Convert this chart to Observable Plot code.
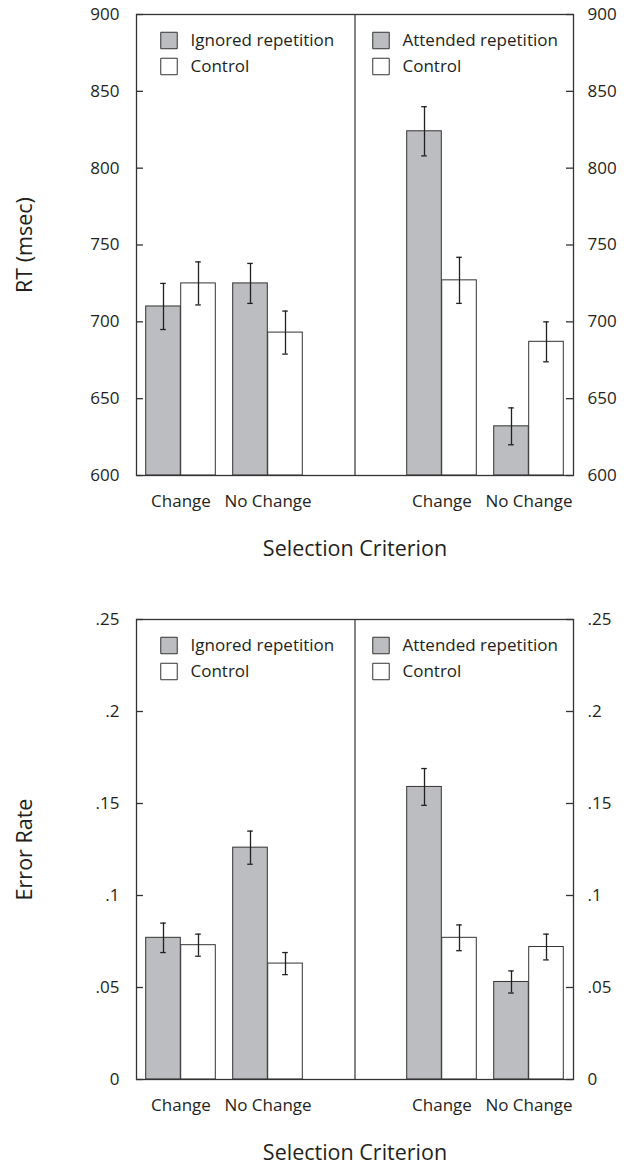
<!DOCTYPE html>
<html>
<head>
<meta charset="utf-8">
<script src="https://cdn.jsdelivr.net/npm/d3@7"></script>
<script src="https://cdn.jsdelivr.net/npm/@observablehq/plot@0.6"></script>
<style>
  html, body { margin: 0; padding: 0; background: #fff; }
  #chart svg { display: block; }
</style>
</head>
<body>
<div id="chart"></div>
<script>
// ---- Data ----
const groups = ["Ignored: Change", "Ignored: No Change", "gap", "Attended: Change", "Attended: No Change"];
const groupLabels = ["Change", "No Change", "", "Change", "No Change"];
const barGroups = ["Ignored: Change", "Ignored: No Change", "Attended: Change", "Attended: No Change"];

const legendLeft = ["Ignored repetition", "Control"];
const legendRight = ["Attended repetition", "Control"];

// RT (msec)
const rtRepetition = [710, 725, 824, 632];
const rtRepetitionErr = [15, 13, 16, 12];
const rtControl = [725, 693, 727, 687];
const rtControlErr = [14, 14, 15, 13];
const rtDomain = [600, 900];
const rtTicks = [600, 650, 700, 750, 800, 850, 900];

// Error rate
const erRepetition = [0.077, 0.126, 0.159, 0.053];
const erRepetitionErr = [0.008, 0.009, 0.010, 0.006];
const erControl = [0.073, 0.063, 0.077, 0.072];
const erControlErr = [0.006, 0.006, 0.007, 0.007];
const erDomain = [0, 0.25];
const erTicks = [0, 0.05, 0.1, 0.15, 0.2, 0.25];

const FONT = "'Open Sans', sans-serif";
const INK = "#231f20";
const GRAY = "#bcbdc0";
const LINE = "#333";

function rows(vals, errs) {
  return barGroups.map((g, i) => ({group: g, value: vals[i], err: errs[i]}));
}

function panelWithLegend(opts) {
  const rowDy = [26, 52];
  const fillFor = i => (i === 0 ? GRAY : "#fff");
  const legendMarks = [];
  for (const i of [0, 1]) {
    legendMarks.push(
      Plot.dot([i], {frameAnchor: "top-left", dx: 32.5, dy: rowDy[i], symbol: "square", r: 9.3, fill: fillFor(i), stroke: LINE, strokeWidth: 1}),
      Plot.text([legendLeft[i]], {frameAnchor: "top-left", dx: 54, dy: rowDy[i], textAnchor: "start", lineAnchor: "middle", fill: INK}),
      Plot.dot([i], {frameAnchor: "top", dx: 26, dy: rowDy[i], symbol: "square", r: 9.3, fill: fillFor(i), stroke: LINE, strokeWidth: 1}),
      Plot.text([legendRight[i]], {frameAnchor: "top", dx: 47.5, dy: rowDy[i], textAnchor: "start", lineAnchor: "middle", fill: INK})
    );
  }
  const {rep, repErr, ctl, ctlErr, domain, ticks, tickFormat, yTitle, marginTop, marginBottom} = opts;
  const repRows = rows(rep, repErr);
  const ctlRows = rows(ctl, ctlErr);
  const base = () => domain[0];
  const barIn = 8.7, barOut = 43.7, half = 17.5, capIn = 40.7;
  const frameW = 635 - 136 - 62;
  const tickLen = 7;
  const errMarks = (data, dx) => [
    Plot.ruleX(data, {x: "group", y1: d => d.value - d.err, y2: d => d.value + d.err, dx, stroke: INK, strokeWidth: 1.3}),
    Plot.tickY(data, {x: "group", y: d => d.value + d.err, dx, insetLeft: capIn, insetRight: capIn, stroke: INK, strokeWidth: 1.3}),
    Plot.tickY(data, {x: "group", y: d => d.value - d.err, dx, insetLeft: capIn, insetRight: capIn, stroke: INK, strokeWidth: 1.3})
  ];
  return Plot.plot({
    width: 635,
    height: 583,
    marginLeft: 136,
    marginRight: 62,
    marginTop,
    marginBottom,
    style: {fontFamily: FONT, fontSize: "17px", color: INK, background: "#fff"},
    x: {domain: groups, padding: 0, axis: null},
    y: {domain, axis: null},
    marks: [
      Plot.barY(repRows, {x: "group", y1: base, y2: "value", insetLeft: barIn, insetRight: barOut, fill: GRAY, stroke: LINE, strokeWidth: 1}),
      Plot.barY(ctlRows, {x: "group", y1: base, y2: "value", insetLeft: barOut, insetRight: barIn, fill: "#fff", stroke: LINE, strokeWidth: 1}),
      ...errMarks(repRows, -half),
      ...errMarks(ctlRows, half),
      Plot.ruleX(["gap"], {x: d => d, stroke: LINE, strokeWidth: 1.2}),
      Plot.frame({stroke: LINE, strokeWidth: 1.3}),
      // inward tick marks on both sides
      Plot.ruleY(ticks, {y: d => d, insetRight: frameW - tickLen, stroke: LINE, strokeWidth: 1.3}),
      Plot.ruleY(ticks, {y: d => d, insetLeft: frameW - tickLen, stroke: LINE, strokeWidth: 1.3}),
      // tick labels
      Plot.axisY({anchor: "left", ticks, tickFormat, tickSize: 0, tickPadding: 17, label: null, fill: INK}),
      Plot.axisY({anchor: "right", ticks, tickFormat, tickSize: 0, tickPadding: 14, label: null, fill: INK}),
      Plot.axisX({ticks: barGroups, tickFormat: d => groupLabels[groups.indexOf(d)], tickSize: 0, tickPadding: 19, label: null, fill: INK}),
      Plot.text(["Selection Criterion"], {frameAnchor: "bottom", dy: 74, lineAnchor: "middle", textAnchor: "middle", fontSize: 21.5, fill: INK}),
      Plot.text([yTitle], {frameAnchor: "left", rotate: -90, dx: -111, lineAnchor: "middle", textAnchor: "middle", fontSize: 21.5, fill: INK}),
      ...legendMarks
    ]
  });
}

const erFormat = d => (d === 0 ? "0" : String(d).replace(/^0/, ""));

const chart = document.getElementById("chart");
chart.append(panelWithLegend({
  rep: rtRepetition, repErr: rtRepetitionErr, ctl: rtControl, ctlErr: rtControlErr,
  domain: rtDomain, ticks: rtTicks, tickFormat: d => String(d), yTitle: "RT (msec)",
  marginTop: 14, marginBottom: 108
}));
chart.append(panelWithLegend({
  rep: erRepetition, repErr: erRepetitionErr, ctl: erControl, ctlErr: erControlErr,
  domain: erDomain, ticks: erTicks, tickFormat: erFormat, yTitle: "Error Rate",
  marginTop: 36, marginBottom: 87
}));
</script>
</body>
</html>
